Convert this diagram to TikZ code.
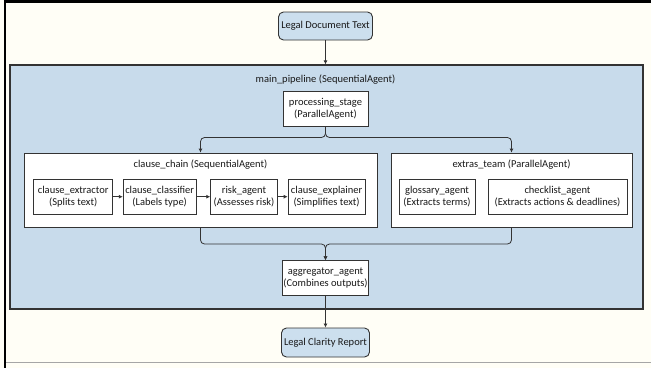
\documentclass[tikz,border=0pt]{standalone}
\usepackage{fontspec}
\setmainfont{Carlito}
\usetikzlibrary{arrows.meta}
\definecolor{bg}{HTML}{FFFEF6}
\definecolor{pipe}{HTML}{C8DBEB}
\definecolor{term}{HTML}{CCDFEE}
\definecolor{ln}{HTML}{333333}
\begin{document}
\begin{tikzpicture}[x=1pt,y=-1pt,
  font=\fontsize{10.5}{12.4}\selectfont,
  every node/.style={inner sep=1pt, align=center, text=black!90},
  pipebox/.style={draw=ln, fill=pipe, line width=1.1pt},
  groupbox/.style={draw=ln, fill=white, line width=0.8pt},
  agentbox/.style={draw=ln, fill=white, line width=0.8pt, minimum height=35pt},
  termbox/.style={draw=ln, fill=term, line width=0.9pt, rounded corners=5pt},
  arr/.style={draw=ln, line width=0.8pt, -{Latex[length=4pt,width=4pt]}}
]
\fill[bg] (0,0) rectangle (651,368);
\useasboundingbox (0,0) rectangle (651,368);
\draw[black, line width=2.5pt] (3.8,1.6) -- (651,1.6);
\draw[black, line width=2.5pt] (5,0.4) -- (5,368);
\draw[black!35, line width=1pt] (6,362.6) -- (651,362.6);

% terminals
\node[termbox, minimum width=94pt, minimum height=28pt] (ldt) at (325.5,26) {Legal Document Text};
\node[termbox, minimum width=88pt, minimum height=29pt] (lcr) at (325.5,342.5) {Legal Clarity Report};

% main pipeline
\node[pipebox, minimum width=633pt, minimum height=244pt] (main) at (326.5,187) {};
\node (maint) at (325.5,80) {main\_pipeline (SequentialAgent)};

\node[agentbox, minimum width=85pt] (ps) at (325.5,108.5) {processing\_stage\\(ParallelAgent)};

% groups
\node[groupbox, minimum width=353pt, minimum height=74pt] (chain) at (200.5,190) {};
\node (chaint) at (200.5,165) {clause\_chain (SequentialAgent)};
\node[groupbox, minimum width=241pt, minimum height=74pt] (extras) at (511.5,190) {};
\node (extrast) at (511.5,165) {extras\_team (ParallelAgent)};

% chain agents
\node[agentbox, minimum width=79pt] (ce) at (73.2,196.7) {clause\_extractor\\(Splits text)};
\node[agentbox, minimum width=73pt] (cc) at (159.7,196.7) {clause\_classifier\\(Labels type)};
\node[agentbox, minimum width=66.6pt] (ra) at (244,196.7) {risk\_agent\\(Assesses risk)};
\node[agentbox, minimum width=77pt] (cx) at (326.6,196.7) {clause\_explainer\\(Simplifies text)};

% extras agents
\node[agentbox, minimum width=76pt] (ga) at (437,196.7) {glossary\_agent\\(Extracts terms)};
\node[agentbox, minimum width=139pt] (ca) at (557.5,196.7) {checklist\_agent\\(Extracts actions \& deadlines)};

\node[agentbox, minimum width=85pt] (agg) at (325.5,278.2) {aggregator\_agent\\(Combines outputs)};

\coordinate (split) at (325.5,137.5);
\coordinate (merge) at (325.5,244);

% connectors
\draw[arr] (ldt) -- (main.north -| ldt);
\draw[arr, rounded corners=4pt] (ps.south) -- (split) -| (chain.north);
\draw[arr, rounded corners=4pt] (ps.south) -- (split) -| (extras.north);
\draw[arr] (ce) -- (cc);
\draw[arr] (cc) -- (ra);
\draw[arr] (ra) -- (cx);
\draw[arr, rounded corners=4pt] (chain.south) |- (merge) -- (agg.north);
\draw[arr, rounded corners=4pt] (extras.south) |- (merge) -- (agg.north);
\draw[arr] (agg) -- (lcr);
\end{tikzpicture}
\end{document}
